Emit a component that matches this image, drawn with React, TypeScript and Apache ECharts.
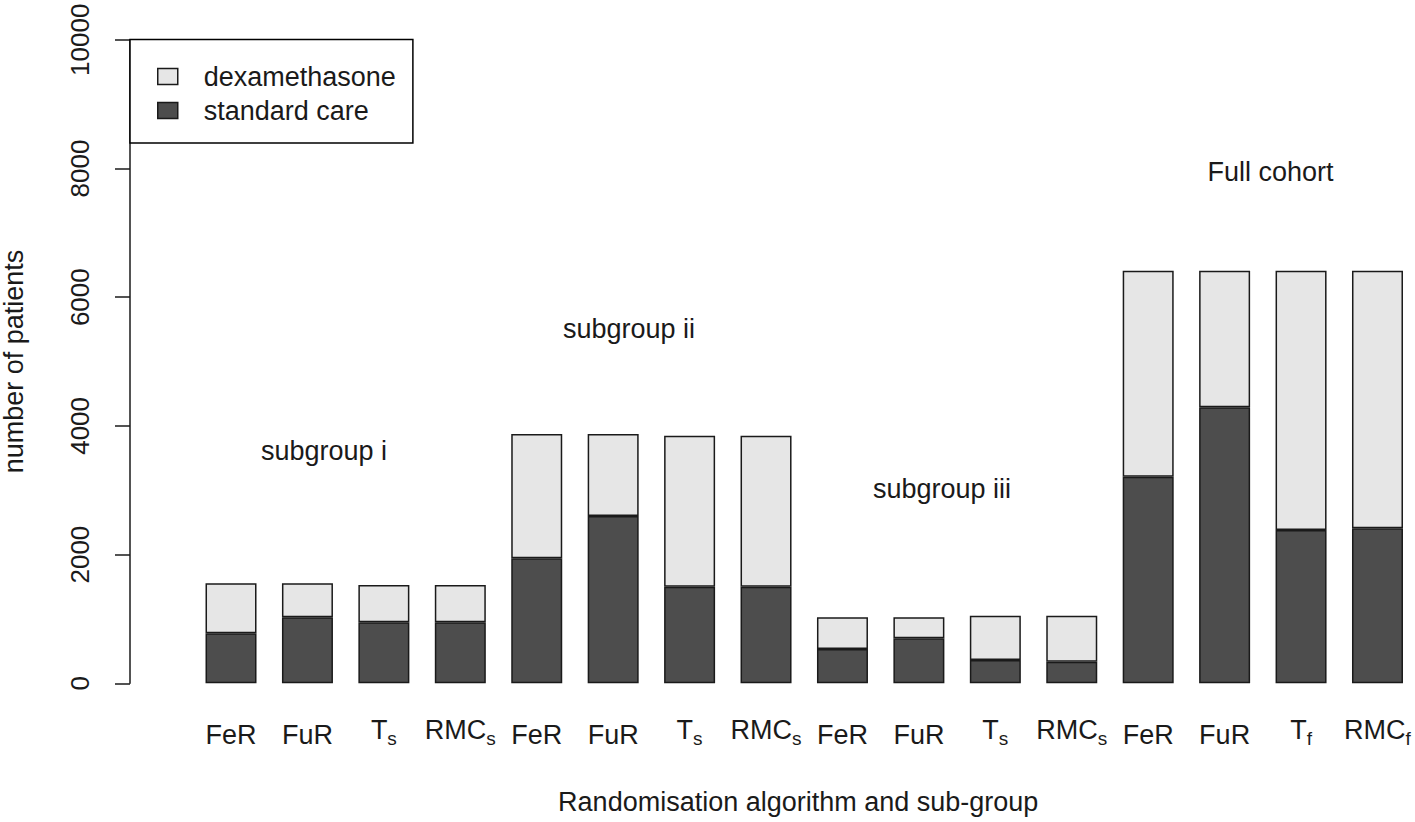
import React, { useEffect, useRef } from "react";
import * as echarts from "echarts";

const labelBase = ["FeR", "FuR", "T", "RMC", "FeR", "FuR", "T", "RMC", "FeR", "FuR", "T", "RMC", "FeR", "FuR", "T", "RMC"];
const labelSub = ["", "", "s", "s", "", "", "s", "s", "", "", "s", "s", "", "", "f", "f"];
const standardCare = [777, 1026, 948, 948, 1942, 2600, 1501, 1501, 533, 699, 362, 336, 3211, 4289, 2382, 2409];
const dexamethasone = [777, 528, 580, 580, 1932, 1274, 2347, 2347, 493, 327, 689, 715, 3201, 2123, 4030, 4003];
const yTicks = [0, 2000, 4000, 6000, 8000, 10000];
const groupNames = ["subgroup i", "subgroup ii", "subgroup iii", "Full cohort"];

const FONT = "'Liberation Sans', Arial, Helvetica, sans-serif";
const TXT = "#1a1a1a";

export default function App() {
  const ref = useRef<HTMLDivElement>(null);
  useEffect(() => {
    document.body.style.margin = "0";
    const chart = echarts.init(ref.current!, null, { renderer: "svg" });
    const categories = labelBase.map((b, i) => (labelSub[i] ? `{b|${b}}{s|${labelSub[i]}}` : `{p|${b}}`));
    const option: any = {
      animation: false,
      backgroundColor: "#ffffff",
      textStyle: { fontFamily: FONT },
      grid: { left: 192.8, top: 39.8, width: 1222.9, height: 643.5, containLabel: false, outerBoundsMode: "none" },
      legend: {
        data: ["dexamethasone", "standard care"],
        orient: "vertical",
        left: 130,
        top: 39.5,
        icon: "rect",
        itemWidth: 20,
        itemHeight: 16,
        itemGap: 4,
        padding: [22, 17, 17.4, 27],
        borderColor: "#000",
        borderWidth: 1.5,
        backgroundColor: "#fff",
        itemStyle: { borderColor: "#1a1a1a", borderWidth: 1.5 },
        textStyle: { fontFamily: FONT, fontSize: 27, color: TXT, lineHeight: 30, padding: [0, 0, 0, 21] },
      },
      xAxis: {
        type: "category",
        data: categories,
        axisLine: { show: false },
        axisTick: { show: false },
        name: "Randomisation algorithm and sub-group",
        nameLocation: "middle",
        nameGap: 105,
        nameTextStyle: { fontFamily: FONT, fontSize: 27, color: TXT, padding: [0, 12, 0, 0] },
        axisLabel: {
          interval: 0,
          margin: 33,
          color: TXT,
          fontFamily: FONT,
          rich: {
            p: { fontFamily: FONT, fontSize: 27, lineHeight: 27, padding: [5, 0, 0, 0], verticalAlign: "top", color: TXT },
            b: { fontFamily: FONT, fontSize: 27, lineHeight: 27, padding: [0, 0, 0, 0], verticalAlign: "top", color: TXT },
            s: { fontFamily: FONT, fontSize: 19, lineHeight: 19, padding: [13, 0, 0, 0], verticalAlign: "top", color: TXT },
          },
        },
      },
      yAxis: {
        type: "value",
        min: yTicks[0],
        max: yTicks[yTicks.length - 1],
        interval: 2000,
        offset: 62.8,
        splitLine: { show: false },
        axisLine: { show: true, lineStyle: { color: "#1a1a1a", width: 1.5 } },
        axisTick: { show: true, length: 15, lineStyle: { color: "#1a1a1a", width: 1.5 } },
        axisLabel: { rotate: 90, margin: 37, fontSize: 26, fontFamily: FONT, color: TXT, formatter: (v: number) => String(v) },
        name: "number of patients",
        nameLocation: "middle",
        nameGap: 103,
        nameTextStyle: { fontFamily: FONT, fontSize: 27, color: TXT },
      },
      series: [
        {
          name: "standard care",
          type: "bar",
          stack: "total",
          data: standardCare,
          barWidth: 51,
          itemStyle: { color: "#4d4d4d", borderColor: "#1a1a1a", borderWidth: 1.5 },
        },
        {
          name: "dexamethasone",
          type: "bar",
          stack: "total",
          data: dexamethasone,
          barWidth: 51,
          itemStyle: { color: "#e6e6e6", borderColor: "#1a1a1a", borderWidth: 1.5 },
        },
      ],
      graphic: [
        { type: "text", x: 324, y: 451, style: { text: groupNames[0], font: `27px ${FONT}`, fill: TXT, textAlign: "center", textVerticalAlign: "middle" } },
        { type: "text", x: 629, y: 328.5, style: { text: groupNames[1], font: `27px ${FONT}`, fill: TXT, textAlign: "center", textVerticalAlign: "middle" } },
        { type: "text", x: 942, y: 489, style: { text: groupNames[2], font: `27px ${FONT}`, fill: TXT, textAlign: "center", textVerticalAlign: "middle" } },
        { type: "text", x: 1270.5, y: 172, style: { text: groupNames[3], font: `27px ${FONT}`, fill: TXT, textAlign: "center", textVerticalAlign: "middle" } },
      ],
    };
    chart.setOption(option);
    return () => chart.dispose();
  }, []);
  return <div ref={ref} style={{ width: 1415, height: 822 }} />;
}
